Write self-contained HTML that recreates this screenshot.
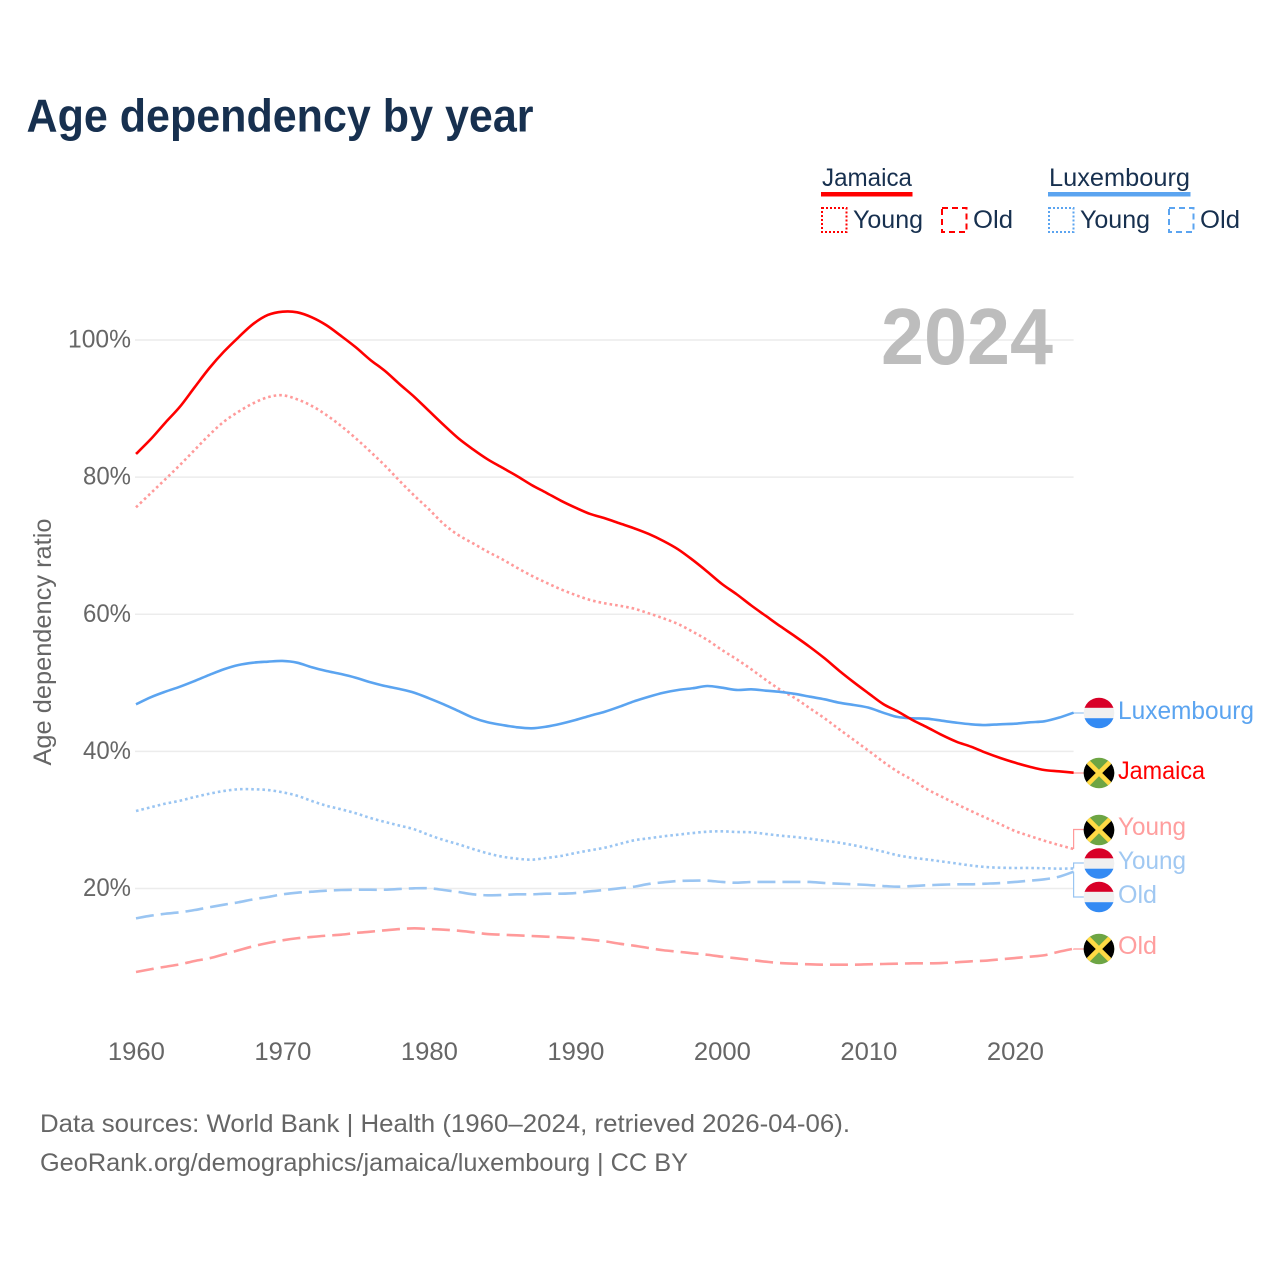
<!DOCTYPE html>
<html lang="en">
<head>
<meta charset="utf-8">
<title>Age dependency by year</title>
<style>
html,body{margin:0;padding:0;background:#fff;width:1280px;height:1280px;overflow:hidden}
svg{display:block}
text{font-family:"Liberation Sans",sans-serif}
</style>
</head>
<body>
<svg id="chart" xmlns="http://www.w3.org/2000/svg" width="1280" height="1280" viewBox="0 0 1280 1280">
  <defs>
    <clipPath id="flag-clip"><circle cx="0" cy="0" r="15.3"/></clipPath>
    <g id="flag-jm">
      <g clip-path="url(#flag-clip)">
        <rect x="-16" y="-16" width="32" height="32" fill="#6da544"/>
        <path d="M-16,-14 L0,0 L-16,14 Z" fill="#000"/>
        <path d="M16,-14 L0,0 L16,14 Z" fill="#000"/>
        <path d="M-14,-14 L14,14 M14,-14 L-14,14" stroke="#ffda44" stroke-width="4.6" fill="none"/>
      </g>
    </g>
    <g id="flag-lu">
      <g clip-path="url(#flag-clip)">
        <rect x="-16" y="-16" width="32" height="11" fill="#d80027"/>
        <rect x="-16" y="-5.2" width="32" height="10.4" fill="#f0f0f0"/>
        <rect x="-16" y="5.2" width="32" height="11" fill="#338af3"/>
      </g>
    </g>
  </defs>

  <text x="26.5" y="131.5" font-size="46" font-weight="700" fill="#17304f" textLength="507" lengthAdjust="spacingAndGlyphs">Age dependency by year</text>

  <g>
    <g>
      <text x="822" y="186" font-size="25" fill="#17304f" textLength="90" lengthAdjust="spacingAndGlyphs">Jamaica</text>
      <rect x="821" y="192" width="91.5" height="4.5" fill="#ff0000"/>
      <rect x="822" y="208" width="24.5" height="24" fill="none" stroke="#ff0000" stroke-width="2" stroke-dasharray="2 2"/>
      <text x="853" y="228" font-size="25" fill="#17304f" textLength="70" lengthAdjust="spacingAndGlyphs">Young</text>
      <rect x="942" y="208" width="24.5" height="24" fill="none" stroke="#ff0000" stroke-width="2" stroke-dasharray="6 4"/>
      <text x="973" y="228" font-size="25" fill="#17304f" textLength="40" lengthAdjust="spacingAndGlyphs">Old</text>
    </g>
    <g>
      <text x="1049" y="186" font-size="25" fill="#17304f" textLength="141" lengthAdjust="spacingAndGlyphs">Luxembourg</text>
      <rect x="1048" y="192" width="142.5" height="4.5" fill="#5ba4f0"/>
      <rect x="1049" y="208" width="24.5" height="24" fill="none" stroke="#5ba4f0" stroke-width="2" stroke-dasharray="2 2"/>
      <text x="1080" y="228" font-size="25" fill="#17304f" textLength="70" lengthAdjust="spacingAndGlyphs">Young</text>
      <rect x="1169" y="208" width="24.5" height="24" fill="none" stroke="#5ba4f0" stroke-width="2" stroke-dasharray="6 4"/>
      <text x="1200" y="228" font-size="25" fill="#17304f" textLength="40" lengthAdjust="spacingAndGlyphs">Old</text>
    </g>
  </g>

  <g id="grid"></g>
  <g id="y-ticks"></g>
  <g id="x-ticks"></g>

  <text transform="translate(51,642) rotate(-90)" text-anchor="middle" font-size="25" fill="#666" textLength="247" lengthAdjust="spacingAndGlyphs">Age dependency ratio</text>

  <text x="881" y="364" font-size="80" font-weight="700" fill="#bdbdbd" textLength="172" lengthAdjust="spacingAndGlyphs">2024</text>

  <g id="connectors"></g>
  <g id="series"></g>

  <g>
    <use href="#flag-lu" x="1099" y="713"/>
    <text x="1118" y="719" font-size="25" fill="#5ba4f0" textLength="136" lengthAdjust="spacingAndGlyphs">Luxembourg</text>
    <use href="#flag-jm" x="1099" y="773"/>
    <text x="1118" y="779" font-size="25" fill="#ff0000" textLength="87" lengthAdjust="spacingAndGlyphs">Jamaica</text>
    <use href="#flag-jm" x="1099" y="830"/>
    <text x="1118" y="835" font-size="25" fill="#ff9e9e" textLength="68" lengthAdjust="spacingAndGlyphs">Young</text>
    <use href="#flag-lu" x="1099" y="863.5"/>
    <text x="1118" y="869" font-size="25" fill="#a0c8f2" textLength="68" lengthAdjust="spacingAndGlyphs">Young</text>
    <use href="#flag-lu" x="1099" y="897"/>
    <text x="1118" y="903" font-size="25" fill="#a0c8f2" textLength="39" lengthAdjust="spacingAndGlyphs">Old</text>
    <use href="#flag-jm" x="1099" y="949"/>
    <text x="1118" y="954" font-size="25" fill="#ff9e9e" textLength="39" lengthAdjust="spacingAndGlyphs">Old</text>
  </g>

  <text x="40" y="1132" font-size="25" fill="#666" textLength="810" lengthAdjust="spacingAndGlyphs">Data sources: World Bank | Health (1960–2024, retrieved 2026-04-06).</text>
  <text x="40" y="1171" font-size="25" fill="#666" textLength="648" lengthAdjust="spacingAndGlyphs">GeoRank.org/demographics/jamaica/luxembourg | CC BY</text>
</svg>

<script>
const startYear = 1960;

const jamaicaTotal = [
  83.38,85.52,87.94,90.27,93.10,95.88,98.30,100.40,102.34,103.65,
  104.13,104.04,103.31,102.15,100.59,98.94,97.09,95.48,93.55,91.70,
  89.65,87.61,85.67,84.06,82.60,81.38,80.17,78.86,77.73,76.57,
  75.55,74.63,74.00,73.27,72.54,71.71,70.69,69.48,67.92,66.21,
  64.42,62.92,61.28,59.75,58.22,56.76,55.23,53.58,51.77,50.08,
  48.48,46.92,45.82,44.58,43.52,42.40,41.42,40.69,39.81,39.04,
  38.36,37.77,37.29,37.10,36.90
];
const jamaicaYoung = [
  75.60,77.64,79.69,81.77,83.96,86.15,88.09,89.55,90.77,91.65,
  91.94,91.35,90.38,89.06,87.46,85.67,83.71,81.67,79.44,77.30,
  75.30,73.17,71.56,70.35,69.13,68.02,66.79,65.63,64.61,63.64,
  62.81,62.08,61.60,61.25,60.82,60.14,59.41,58.58,57.46,56.25,
  54.79,53.44,51.98,50.42,48.96,47.75,46.29,44.83,43.23,41.67,
  40.11,38.50,37.04,35.83,34.48,33.40,32.33,31.31,30.33,29.37,
  28.39,27.67,26.98,26.35,25.77
];
const jamaicaOld = [
  7.83,8.23,8.60,8.95,9.44,9.83,10.41,11.00,11.58,12.06,
  12.45,12.75,12.94,13.13,13.27,13.52,13.71,13.91,14.10,14.20,
  14.10,14.00,13.85,13.62,13.37,13.27,13.18,13.08,12.98,12.89,
  12.75,12.54,12.31,11.96,11.67,11.33,11.00,10.79,10.56,10.35,
  10.06,9.83,9.58,9.33,9.14,9.04,8.95,8.90,8.90,8.90,
  8.95,9.00,9.04,9.10,9.10,9.14,9.25,9.39,9.48,9.68,
  9.87,10.06,10.27,10.79,11.23
];
const luxembourgTotal = [
  46.87,47.89,48.71,49.44,50.27,51.15,51.98,52.60,52.94,53.09,
  53.19,52.94,52.27,51.73,51.29,50.75,50.08,49.54,49.10,48.56,
  47.75,46.87,45.90,44.92,44.25,43.85,43.52,43.37,43.61,44.04,
  44.58,45.21,45.79,46.52,47.31,47.98,48.56,48.96,49.21,49.54,
  49.29,48.96,49.06,48.86,48.67,48.38,47.98,47.60,47.11,46.77,
  46.38,45.65,45.02,44.83,44.77,44.48,44.19,43.96,43.85,43.96,
  44.04,44.25,44.39,44.92,45.65
];
const luxembourgYoung = [
  31.31,31.85,32.38,32.81,33.35,33.83,34.23,34.48,34.48,34.37,
  34.04,33.54,32.77,32.08,31.56,30.98,30.29,29.71,29.17,28.64,
  27.81,27.08,26.46,25.77,25.14,24.65,24.36,24.21,24.46,24.75,
  25.19,25.58,25.96,26.50,27.04,27.33,27.62,27.86,28.10,28.29,
  28.35,28.25,28.21,27.96,27.71,27.52,27.27,26.98,26.69,26.31,
  25.87,25.38,24.85,24.50,24.24,23.95,23.66,23.36,23.14,23.04,
  23.00,23.00,22.96,22.90,22.93
];
const luxembourgOld = [
  15.66,16.04,16.33,16.54,16.87,17.27,17.65,18.00,18.43,18.77,
  19.16,19.40,19.54,19.69,19.79,19.83,19.83,19.83,19.94,20.04,
  20.04,19.79,19.50,19.16,19.02,19.06,19.16,19.16,19.25,19.25,
  19.35,19.60,19.79,20.04,20.27,20.67,20.91,21.10,21.15,21.15,
  20.96,20.85,20.96,20.96,20.96,20.96,20.96,20.81,20.71,20.62,
  20.52,20.37,20.27,20.37,20.48,20.56,20.62,20.62,20.71,20.81,
  20.96,21.15,21.35,21.73,22.46
];

const yTickValues = [20, 40, 60, 80, 100];
const xTickYears = [1960, 1970, 1980, 1990, 2000, 2010, 2020];

const SVG_NS = 'http://www.w3.org/2000/svg';
const plotLeft = 136, plotRight = 1073.6;
const yearSpan = 64;
function xScale(year) { return plotLeft + (year - startYear) * (plotRight - plotLeft) / yearSpan; }
function yScale(value) { return 1025.7 - value * 6.857; }

function makeEl(tag, attrs, parent) {
  const el = document.createElementNS(SVG_NS, tag);
  for (const key in attrs) el.setAttribute(key, attrs[key]);
  parent.appendChild(el);
  return el;
}

const gridGroup = document.getElementById('grid');
const yTickGroup = document.getElementById('y-ticks');
const xTickGroup = document.getElementById('x-ticks');
const seriesGroup = document.getElementById('series');
const connectorGroup = document.getElementById('connectors');

yTickValues.forEach(function (v) {
  const line = makeEl('line', { x1: plotLeft - 1, x2: plotRight, y1: yScale(v), y2: yScale(v), stroke: '#ececec', 'stroke-width': 1.5 }, gridGroup);
  
  
  const label = makeEl('text', { x: 131, y: yScale(v) + 7.5, 'text-anchor': 'end', 'font-size': 25, fill: '#666', textLength: v === 100 ? 63 : 48, lengthAdjust: 'spacingAndGlyphs' }, yTickGroup);
  label.textContent = v + '%';
  
  
});

xTickYears.forEach(function (year) {
  const label = makeEl('text', { x: xScale(year) + 0.4, y: 1060, 'text-anchor': 'middle', 'font-size': 25, fill: '#666', textLength: 57, lengthAdjust: 'spacingAndGlyphs' }, xTickGroup);
  label.textContent = String(year);
  
  
});

function linePath(values) {
  const px = values.map(function (v, i) { return [xScale(startYear + i), yScale(v)]; });
  let d = 'M' + px[0][0].toFixed(2) + ',' + px[0][1].toFixed(2);
  for (let i = 0; i < px.length - 1; i++) {
    const p0 = px[Math.max(i - 1, 0)], p1 = px[i], p2 = px[i + 1], p3 = px[Math.min(i + 2, px.length - 1)];
    const c1x = p1[0] + (p2[0] - p0[0]) / 6, c1y = p1[1] + (p2[1] - p0[1]) / 6;
    const c2x = p2[0] - (p3[0] - p1[0]) / 6, c2y = p2[1] - (p3[1] - p1[1]) / 6;
    d += ' C' + c1x.toFixed(2) + ',' + c1y.toFixed(2) + ' ' + c2x.toFixed(2) + ',' + c2y.toFixed(2) + ' ' + p2[0].toFixed(2) + ',' + p2[1].toFixed(2);
  }
  return d;
}

function drawSeries(values, color, dash, width, name) {
  const attrs = { d: linePath(values), fill: 'none', stroke: color, 'stroke-width': width, 'stroke-linejoin': 'round' };
  if (dash) attrs['stroke-dasharray'] = dash;
  const path = makeEl('path', attrs, seriesGroup);
  
  
}

drawSeries(jamaicaOld, '#ff9a9a', '18 7', 2.6, 'line-jamaica-old');
drawSeries(luxembourgOld, '#9ac5f2', '18 7', 2.6, 'line-luxembourg-old');
drawSeries(jamaicaYoung, '#ff9a9a', '2.6 3', 2.6, 'line-jamaica-young');
drawSeries(luxembourgYoung, '#9ac5f2', '2.6 3', 2.6, 'line-luxembourg-young');
drawSeries(luxembourgTotal, '#5ba4f0', null, 2.6, 'line-luxembourg-total');
drawSeries(jamaicaTotal, '#ff0000', null, 2.6, 'line-jamaica-total');

function drawConnector(values, labelY, color, name) {
  const endX = xScale(startYear + yearSpan);
  const endY = yScale(values[values.length - 1]);
  const path = makeEl('path', { d: 'M' + endX + ',' + endY + ' V' + labelY + ' H1084', fill: 'none', stroke: color, 'stroke-width': 1.2 }, connectorGroup);
  
  
}

drawConnector(luxembourgTotal, 713, '#9ac5f2', 'connector-luxembourg');
drawConnector(jamaicaTotal, 773, '#ff9a9a', 'connector-jamaica');
drawConnector(jamaicaYoung, 829.5, '#ff9a9a', 'connector-jamaica-young');
drawConnector(luxembourgYoung, 863, '#9ac5f2', 'connector-luxembourg-young');
drawConnector(luxembourgOld, 897, '#9ac5f2', 'connector-luxembourg-old');
drawConnector(jamaicaOld, 949, '#ff9a9a', 'connector-jamaica-old');
</script>
</body>
</html>
